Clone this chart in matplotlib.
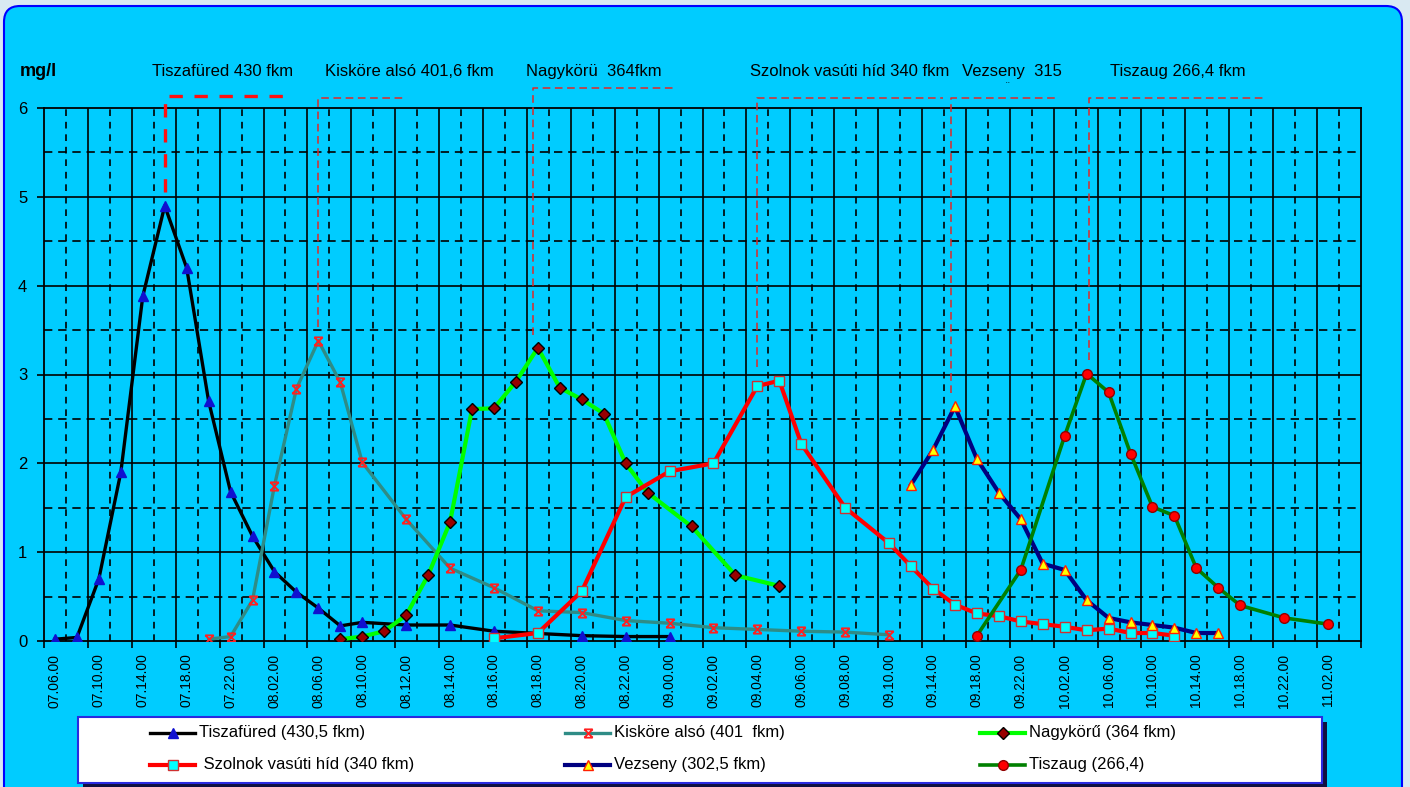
import numpy as np
import matplotlib.pyplot as plt
from matplotlib.patches import FancyBboxPatch, Rectangle
from matplotlib.path import Path

plt.rcParams['font.family'] = ['Liberation Sans', 'DejaVu Sans']

# sampling slots on the category axis, every second one labelled (day.hour.min)
n_cat = 60
tick_labels = ["07.06.00", "07.10.00", "07.14.00", "07.18.00", "07.22.00",
               "08.02.00", "08.06.00", "08.10.00", "08.12.00", "08.14.00",
               "08.16.00", "08.18.00", "08.20.00", "08.22.00", "09.00.00",
               "09.02.00", "09.04.00", "09.06.00", "09.08.00", "09.10.00",
               "09.14.00", "09.18.00", "09.22.00", "10.02.00", "10.06.00",
               "10.10.00", "10.14.00", "10.18.00", "10.22.00", "11.02.00"]

# concentrations (mg/l) per station, x = slot index
tiszafured_x = [0, 1, 2, 3, 4, 5, 6, 7, 8, 9, 10, 11, 12, 13, 14, 16, 18, 20, 24, 26, 28]
tiszafured_y = [0.02, 0.04, 0.7, 1.9, 3.88, 4.9, 4.2, 2.7, 1.68, 1.18, 0.78, 0.55,
                0.37, 0.17, 0.21, 0.18, 0.18, 0.11, 0.06, 0.05, 0.05]

kiskore_x = [7, 8, 9, 10, 11, 12, 13, 14, 16, 18, 20, 22, 24, 26, 28, 30, 32, 34, 36, 38]
kiskore_y = [0.02, 0.05, 0.46, 1.75, 2.84, 3.38, 2.91, 2.01, 1.37, 0.82, 0.6, 0.34,
             0.32, 0.23, 0.2, 0.15, 0.13, 0.11, 0.1, 0.07]

nagykoru_x = [13, 14, 15, 16, 17, 18, 19, 20, 21, 22, 23, 24, 25, 26, 27, 29, 31, 33]
nagykoru_y = [0.02, 0.05, 0.11, 0.29, 0.74, 1.34, 2.61, 2.62, 2.92, 3.3, 2.85, 2.72,
              2.56, 2.0, 1.67, 1.29, 0.74, 0.62]

szolnok_x = [20, 22, 24, 26, 28, 30, 32, 33, 34, 36, 38, 39, 40, 41, 42, 43, 44, 45,
             46, 47, 48, 49, 50, 51]
szolnok_y = [0.03, 0.09, 0.56, 1.62, 1.91, 2.0, 2.87, 2.93, 2.22, 1.5, 1.1, 0.84,
             0.59, 0.41, 0.31, 0.28, 0.22, 0.19, 0.16, 0.12, 0.14, 0.09, 0.09, 0.06]

vezseny_x = [39, 40, 41, 42, 43, 44, 45, 46, 47, 48, 49, 50, 51, 52, 53]
vezseny_y = [1.76, 2.15, 2.64, 2.05, 1.67, 1.37, 0.87, 0.8, 0.46, 0.26, 0.21, 0.18,
             0.15, 0.09, 0.09]

tiszaug_x = [42, 44, 46, 47, 48, 49, 50, 51, 52, 53, 54, 56, 58]
tiszaug_y = [0.06, 0.8, 2.31, 3.01, 2.8, 2.11, 1.51, 1.41, 0.82, 0.6, 0.4, 0.26, 0.19]

legend_names = ["Tiszafüred (430,5 fkm)", "Kisköre alsó (401  fkm)", "Nagykörű (364 fkm)",
                " Szolnok vasúti híd (340 fkm)", "Vezseny (302,5 fkm)", "Tiszaug (266,4)"]
station_titles = ["Tiszafüred 430 fkm", "Kisköre alsó 401,6 fkm", "Nagykörü  364fkm",
                  "Szolnok vasúti híd 340 fkm", "Vezseny  315", "Tiszaug 266,4 fkm"]

# hourglass marker (x with caps) for Kisköre
hourglass = Path([(-1, -1), (1, 1), (-1, 1), (1, -1), (-1, 1), (1, 1), (-1, -1), (1, -1)],
                 [Path.MOVETO, Path.LINETO] * 4)

styles = [
    dict(color='black', lw=2.4, marker='^', ms=7, mfc='#1010d0', mec='#1010d0'),
    dict(color='#2f8c86', lw=2.4, marker=hourglass, ms=6, mfc='none', mec='#ff2020', mew=1.3),
    dict(color='#00ff00', lw=3, marker='D', ms=6.5, mfc='#990000', mec='black', mew=1),
    dict(color='#ff0000', lw=3, marker='s', ms=6.5, mfc='#00ffff', mec='#d03030', mew=1),
    dict(color='#000080', lw=3, marker='^', ms=7.5, mfc='#ffff00', mec='#ff2000', mew=1),
    dict(color='#008000', lw=2.6, marker='o', ms=7, mfc='#ff0000', mec='#900000', mew=1),
]
series = [(tiszafured_x, tiszafured_y), (kiskore_x, kiskore_y), (nagykoru_x, nagykoru_y),
          (szolnok_x, szolnok_y), (vezseny_x, vezseny_y), (tiszaug_x, tiszaug_y)]

W, H = 1410, 787
fig = plt.figure(figsize=(W / 100, H / 100), dpi=100)
fig.patch.set_facecolor('#d9e9f2')

# pixel-unit background layer: rounded panel + legend box
bg = fig.add_axes([0, 0, 1, 1])
bg.set_xlim(0, W)
bg.set_ylim(H, 0)
bg.axis('off')
bg.add_patch(FancyBboxPatch((4, 6), 1398, 800, boxstyle="round,pad=0,rounding_size=16",
                            fc='#00ccff', ec='#0000ff', lw=1.5))
bg.text(20, 71, "mg/l", fontsize=13, fontweight='bold', va='center')

ax = fig.add_axes([44 / W, 1 - 641 / H, (1361 - 44) / W, (641 - 108) / H])
ax.set_facecolor('#00ccff')
ax.set_xlim(-0.5, n_cat - 0.5)
ax.set_ylim(0, 6)

# grid: solid on integers / even slot borders, dashed on halves / odd borders
grid_kw = dict(color='black', lw=1.2, zorder=1)
for b in np.arange(1.5, n_cat - 1, 2):
    ax.axvline(b, **grid_kw)
for b in np.arange(0.5, n_cat, 2):
    ax.axvline(b, ls=(0, (4, 3.5)), **grid_kw)
for v in range(1, 6):
    ax.axhline(v, **grid_kw)
for v in np.arange(0.5, 6, 1):
    ax.axhline(v, ls=(0, (5, 3.5)), **grid_kw)

ax.set_yticks(range(7))
ax.tick_params(axis='y', length=5, width=1.2, pad=7, labelsize=12)
ax.set_xticks(np.arange(0, n_cat, 2))
ax.set_xticklabels(tick_labels, rotation=90, fontsize=10)
ax.set_xticks(np.arange(-0.5, n_cat, 2), minor=True)
ax.tick_params(axis='x', which='major', length=0, pad=9)
ax.tick_params(axis='x', which='minor', length=5, width=1.2)
for sp in ax.spines.values():
    sp.set_linewidth(1.3)

for (xs, ys), st in zip(series, styles):
    ax.plot(xs, ys, zorder=3, **st)

# leader lines from station captions down to each wave peak
lead_x = [5, 12, 21.8, 32, 40.8, 47.1]
lead_end = [10.7, 15.95, 28.25, 40.45, 45.7, 55.1]
lead_top = [6.135, 6.11, 6.225, 6.11, 6.11, 6.11]
title_x = [4.42, 12.3, 21.46, 31.66, 41.3, 48.06]
for i, (xs, ys) in enumerate(series):
    bottom = max(ys) + 0.15
    if i == 0:
        kw = dict(color='#ff1010', lw=2.4, ls=(0, (4, 3.5)))
    else:
        kw = dict(color='#e02828', lw=1.1, ls=(0, (5, 3)))
    ax.plot([lead_x[i], lead_x[i], lead_end[i]], [bottom, lead_top[i], lead_top[i]],
            clip_on=False, zorder=4, **kw)
    ax.text(title_x[i], 6.41, station_titles[i], fontsize=12, va='center', clip_on=False)
ax.text(43.4, 6.24, "¨", fontsize=8, ha='center', va='center', clip_on=False)

# legend box drawn in pixel units
bg.add_patch(Rectangle((83, 722), 1244, 66, fc='#101040', ec='none', zorder=2))
bg.add_patch(Rectangle((78, 717), 1244, 66, fc='white', ec='#2a2ae0', lw=1.5, zorder=3))
col_x = [150, 565, 980]
row_y = [733, 765]
for k in range(6):
    x0 = col_x[k % 3]
    y0 = row_y[k // 3]
    st = styles[k]
    bg.plot([x0, x0 + 45], [y0, y0], color=st['color'], lw=st['lw'], zorder=4)
    bg.plot([x0 + 22.5], [y0], ls='none', zorder=5,
            **{key: v for key, v in st.items() if key not in ('lw', 'color')})
    bg.text(x0 + 49, y0, legend_names[k], fontsize=12, va='center', zorder=5)

fig.savefig("out.png", dpi=100, facecolor=fig.get_facecolor())
